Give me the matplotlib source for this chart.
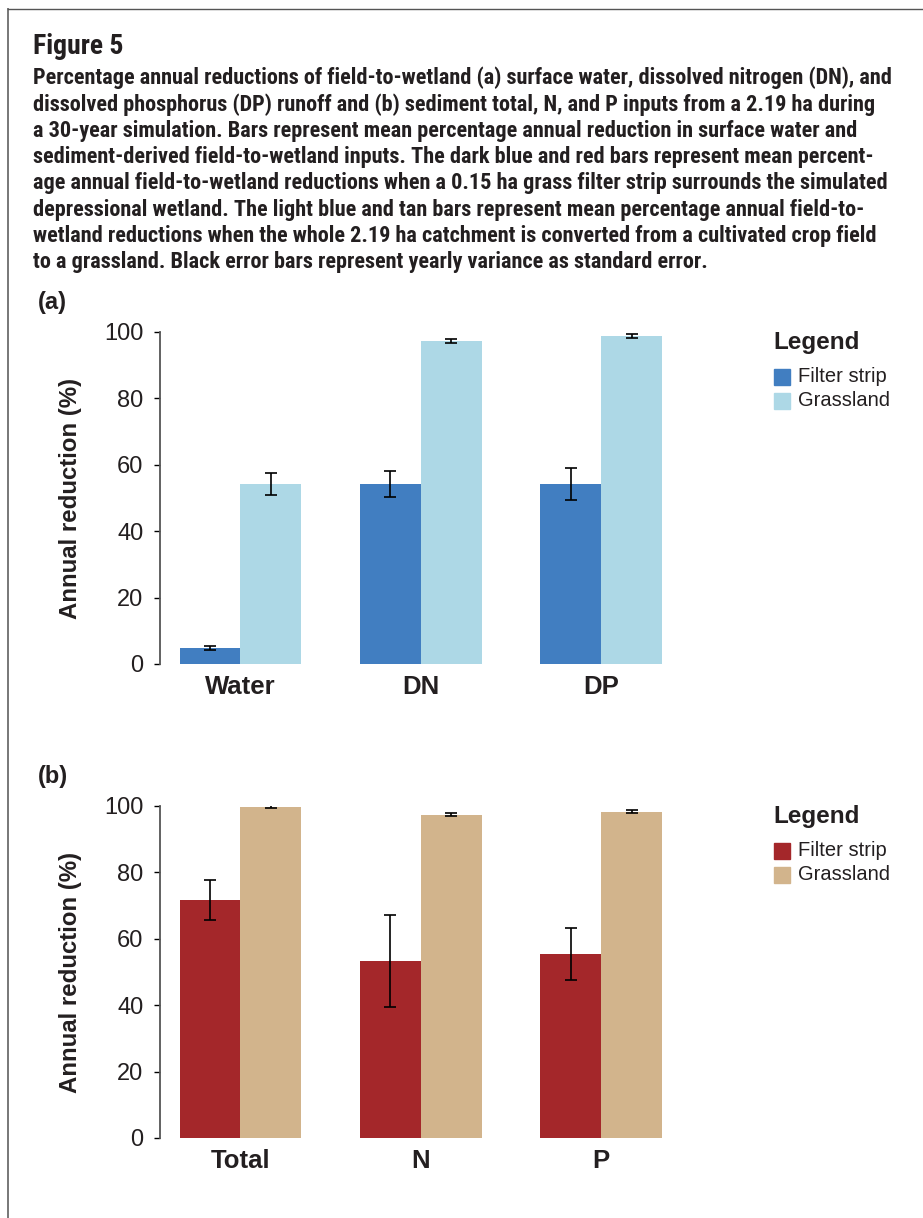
import matplotlib
matplotlib.use("Agg")
from matplotlib import pyplot as plt
from matplotlib import font_manager
from matplotlib.lines import Line2D
from matplotlib.patches import Rectangle
import numpy as np

# mean annual reduction (%) and standard error, panel (a)
cats_a = ["Water", "DN", "DP"]
filter_a = [4.7, 54.2, 54.2]
filter_a_err = [0.6, 4.0, 4.8]
grass_a = [54.2, 97.3, 98.8]
grass_a_err = [3.2, 0.6, 0.5]

# panel (b): sediment-derived inputs
cats_b = ["Total", "N", "P"]
filter_b = [71.8, 53.4, 55.5]
filter_b_err = [6.0, 13.8, 7.8]
grass_b = [99.8, 97.4, 98.3]
grass_b_err = [0.4, 0.4, 0.4]

series_labels = ["Filter strip", "Grassland"]
yticks = [0, 20, 40, 60, 80, 100]

caption = (
    "Percentage annual reductions of field-to-wetland (a) surface water, dissolved nitrogen (DN), and\n"
    "dissolved phosphorus (DP) runoff and (b) sediment total, N, and P inputs from a 2.19 ha during\n"
    "a 30-year simulation. Bars represent mean percentage annual reduction in surface water and\n"
    "sediment-derived field-to-wetland inputs. The dark blue and red bars represent mean percent-\n"
    "age annual field-to-wetland reductions when a 0.15 ha grass filter strip surrounds the simulated\n"
    "depressional wetland. The light blue and tan bars represent mean percentage annual field-to-\n"
    "wetland reductions when the whole 2.19 ha catchment is converted from a cultivated crop field\n"
    "to a grassland. Black error bars represent yearly variance as standard error."
)


def pick_font(names):
    for n in names:
        try:
            font_manager.findfont(n, fallback_to_default=False)
            return n
        except Exception:
            pass
    return "DejaVu Sans"


narrow = pick_font(["Liberation Sans Narrow", "Roboto Condensed", "Open Sans"])
plt.rcParams["font.family"] = ["Liberation Sans", "DejaVu Sans"]
ink = "#231f20"

W, H = 923, 1218
fig = plt.figure(figsize=(W / 100, H / 100), dpi=100)


def fx(px):
    return px / W


def fy(py):
    return 1 - py / H


# page frame
fig.add_artist(Line2D([fx(8), fx(8)], [fy(9), 0], color="#777777", lw=1.4))
fig.add_artist(Line2D([fx(8), 1], [fy(9), fy(9)], color="#555555", lw=1.0))

fig.text(fx(33), fy(46), "Figure 5", family=narrow, weight="bold", fontsize=20,
         va="center", ha="left", color=ink)
fig.text(fx(33), fy(66), caption, family=narrow, weight="bold", fontsize=16,
         va="top", ha="left", color=ink, linespacing=1.25)


def panel(bottom_px, cats, f, fe, g, ge, colors, tag):
    left, right = 160, 662
    top = bottom_px - 332
    ax = fig.add_axes([fx(left), fy(bottom_px), fx(right) - fx(left),
                       fy(top) - fy(bottom_px)])
    x = np.arange(len(cats))
    w = 0.337
    ekw = dict(ecolor="black", elinewidth=1.2, capsize=4, capthick=1.2)
    ax.bar(x - w / 2, f, w, color=colors[0], yerr=fe, error_kw=ekw)
    ax.bar(x + w / 2, g, w, color=colors[1], yerr=ge, error_kw=ekw)
    ax.set_xlim(-0.446, 2.337)
    ax.set_ylim(0, 100)
    ax.set_yticks(yticks)
    ax.set_xticks(x)
    ax.set_xticklabels(cats, fontsize=18.5, weight="bold", color=ink)
    ax.tick_params(axis="x", length=0, pad=8)
    ax.tick_params(axis="y", direction="out", length=4.5, width=1.0,
                   labelsize=17, pad=7.5, labelcolor=ink)
    for s in ["top", "right", "bottom"]:
        ax.spines[s].set_visible(False)
    ax.spines["left"].set_color("#555555")
    ax.spines["left"].set_linewidth(1.3)
    ax.set_ylabel("Annual reduction (%)", fontsize=17.3, weight="bold",
                  color=ink, labelpad=16)
    fig.text(fx(38), fy(top - 30), tag, fontsize=17, weight="bold",
             va="center", ha="left", color=ink)

    # legend block to the right of the bars
    fig.text(fx(773), fy(top + 10), "Legend", fontsize=17.5, weight="bold",
             va="center", ha="left", color=ink)
    for i, (lab, c) in enumerate(zip(series_labels, colors)):
        yc = top + 45 + 24 * i
        fig.add_artist(Rectangle((fx(774), fy(yc + 8)), fx(16), 16 / H,
                                 color=c, transform=fig.transFigure))
        fig.text(fx(798), fy(yc), lab, fontsize=14.5, va="center",
                 ha="left", color=ink)
    return ax


panel(664, cats_a, filter_a, filter_a_err, grass_a, grass_a_err,
      ["#417ec1", "#add8e6"], "(a)")
panel(1138, cats_b, filter_b, filter_b_err, grass_b, grass_b_err,
      ["#a4272a", "#d2b48c"], "(b)")

fig.savefig("out.png", dpi=100)
